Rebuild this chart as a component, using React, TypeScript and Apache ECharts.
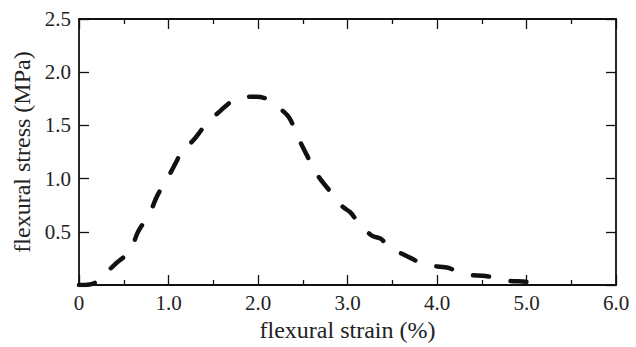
import React, { useEffect, useRef } from "react";
import * as echarts from "echarts";

const strain = [0, 0.12, 0.23, 0.3, 0.39, 0.57, 0.66, 0.79, 0.875, 1.0, 1.1, 1.165, 1.26, 1.39, 1.46, 1.57, 1.73, 1.84, 1.98, 2.1, 2.18, 2.26, 2.35, 2.44, 2.54, 2.66, 2.8, 2.94, 3.03, 3.11, 3.27, 3.37, 3.46, 3.66, 3.88, 4.11, 4.22, 4.33, 4.56, 4.8, 5.0, 5.08];
const stress = [0, 0.005, 0.05, 0.11, 0.185, 0.325, 0.5, 0.675, 0.84, 1.02, 1.18, 1.29, 1.345, 1.48, 1.54, 1.63, 1.74, 1.77, 1.77, 1.75, 1.71, 1.65, 1.57, 1.4, 1.23, 1.04, 0.886, 0.74, 0.684, 0.6, 0.465, 0.435, 0.363, 0.273, 0.19, 0.164, 0.13, 0.098, 0.082, 0.04, 0.03, 0];

const xTicks = [0, 1, 2, 3, 4, 5, 6];
const yTicks = [0, 0.5, 1, 1.5, 2, 2.5];

const FONT = "'Liberation Serif', 'DejaVu Serif', serif";

export default function App() {
  const ref = useRef<HTMLDivElement>(null);
  useEffect(() => {
    if (!ref.current) return;
    const chart = echarts.init(ref.current, null, { renderer: "svg" });
    const axisLine = { show: true, onZero: false, lineStyle: { color: "#111", width: 1.8 } };
    const tick = { show: true, inside: true, length: 10, lineStyle: { color: "#111", width: 1.3 } };
    const minor = { show: true, splitNumber: 2, length: 5, lineStyle: { color: "#111", width: 1.3 } };
    chart.setOption({
      animation: false,
      backgroundColor: "#fff",
      grid: { left: 79, right: 20, top: 19, bottom: 60 },
      xAxis: [
        {
          type: "value",
          position: "bottom",
          min: xTicks[0],
          max: xTicks[xTicks.length - 1],
          interval: 1,
          name: "flexural strain (%)",
          nameLocation: "middle",
          nameGap: 33,
          nameTextStyle: { fontFamily: FONT, fontSize: 24, color: "#222" },
          axisLine,
          axisTick: tick,
          minorTick: minor,
          axisLabel: {
            fontFamily: FONT,
            fontSize: 21,
            color: "#222",
            margin: 7,
            formatter: (v: number) => (v === 0 ? "0" : v.toFixed(1)),
          },
          splitLine: { show: false },
          minorSplitLine: { show: false },
        },
        {
          type: "value",
          position: "top",
          min: xTicks[0],
          max: xTicks[xTicks.length - 1],
          interval: 1,
          axisLine,
          axisTick: tick,
          minorTick: minor,
          axisLabel: { show: false },
          splitLine: { show: false },
        },
      ],
      yAxis: [
        {
          type: "value",
          position: "left",
          min: yTicks[0],
          max: yTicks[yTicks.length - 1],
          interval: 0.5,
          name: "flexural stress (MPa)",
          nameLocation: "middle",
          nameGap: 45,
          nameRotate: 90,
          nameTextStyle: { fontFamily: FONT, fontSize: 24, color: "#222" },
          axisLine,
          axisTick: tick,
          axisLabel: {
            fontFamily: FONT,
            fontSize: 21,
            color: "#222",
            margin: 8,
            formatter: (v: number) => (v === 0 ? "" : v.toFixed(1)),
          },
          splitLine: { show: false },
        },
        {
          type: "value",
          position: "right",
          min: yTicks[0],
          max: yTicks[yTicks.length - 1],
          interval: 0.5,
          axisLine,
          axisTick: tick,
          axisLabel: { show: false },
          splitLine: { show: false },
        },
      ],
      series: [
        {
          type: "line",
          xAxisIndex: 0,
          yAxisIndex: 0,
          data: strain.map((s, i) => [s, stress[i]]),
          smooth: 0.4,
          showSymbol: false,
          symbol: "none",
          lineStyle: { color: "#111", width: 4.5, type: [16, 22], cap: "round", join: "round" },
        },
      ],
    });
    return () => chart.dispose();
  }, []);
  return (
    <div
      ref={ref}
      style={{ position: "absolute", left: 0, top: 0, width: 636, height: 347 }}
    />
  );
}
